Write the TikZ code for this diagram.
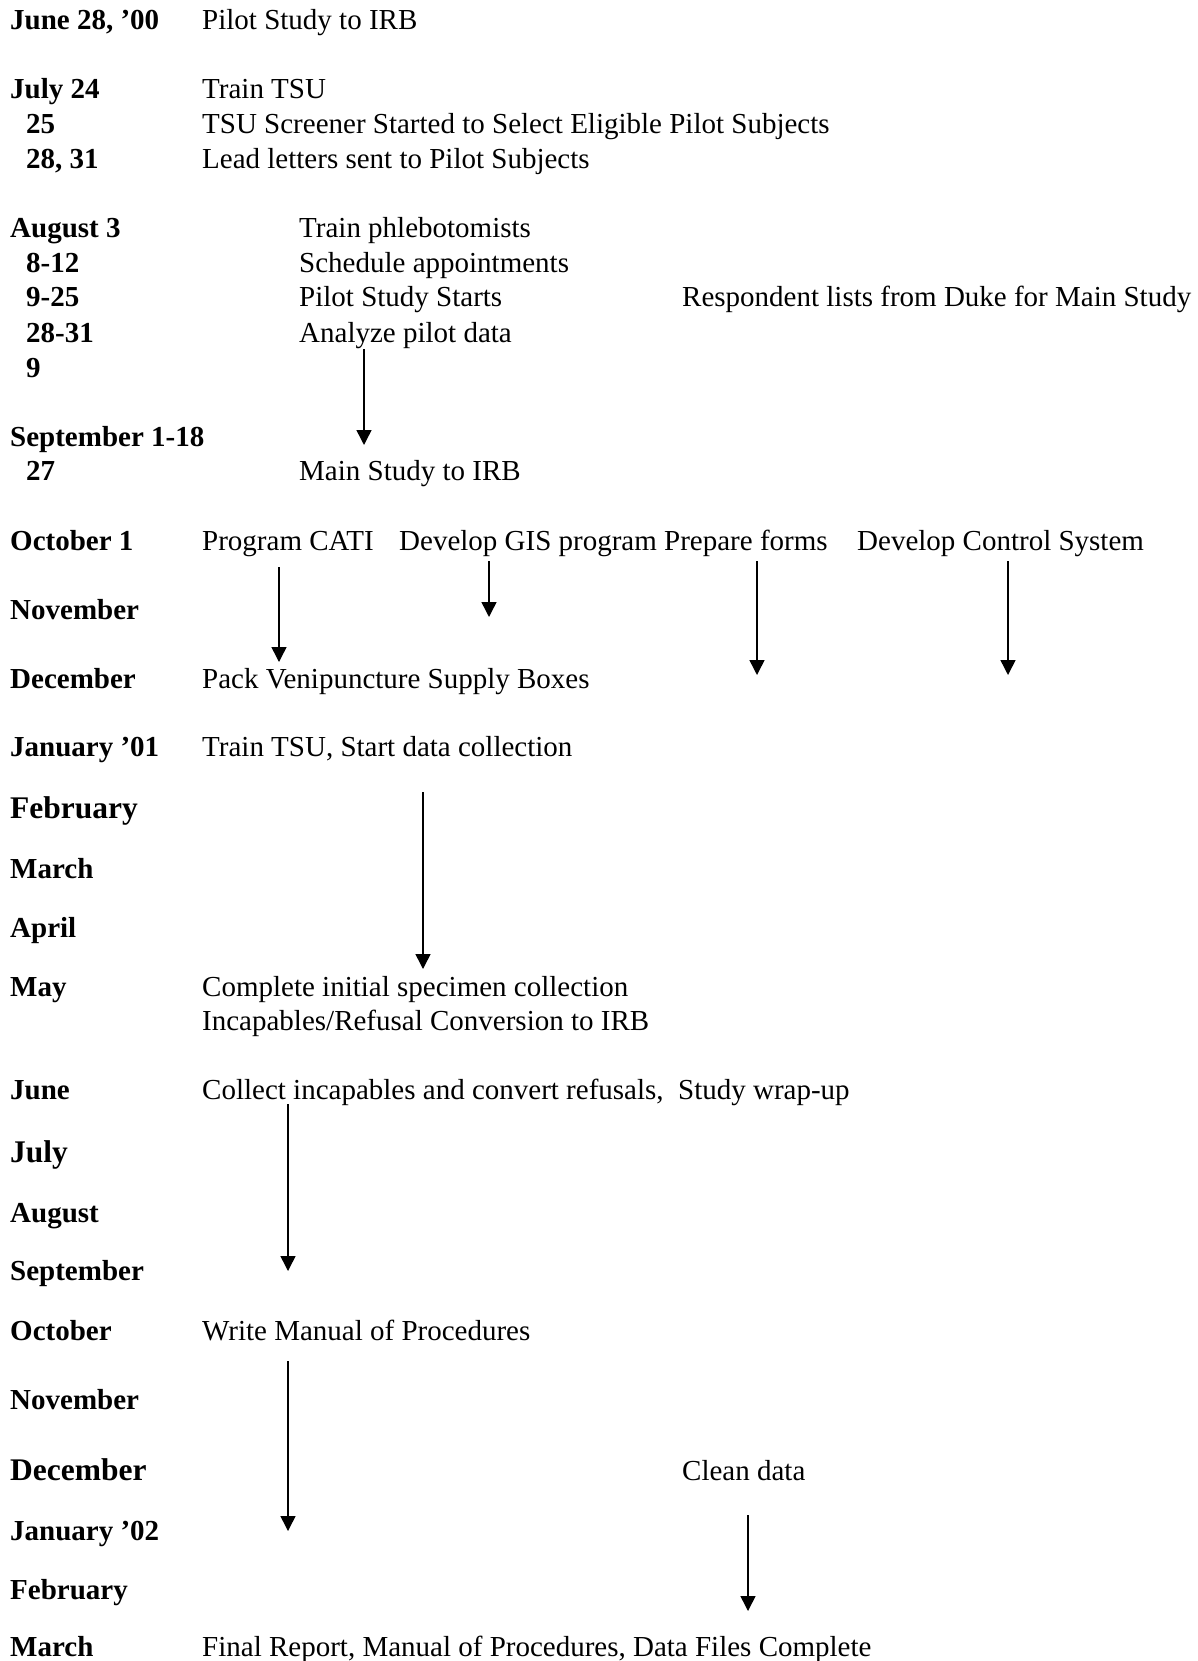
\documentclass[tikz,border=0pt]{standalone}
\usepackage{fontspec}
\setmainfont{Liberation Serif}
\usetikzlibrary{arrows.meta}

\begin{document}
\begin{tikzpicture}[x=1pt,y=-1pt,
  mon/.style={anchor=base west,inner sep=0pt,font=\fontsize{29}{34}\selectfont\bfseries},
  bigmon/.style={mon,font=\fontsize{31.5}{37}\selectfont\bfseries},
  task/.style={anchor=base west,inner sep=0pt,font=\fontsize{29}{34}\selectfont},
  arr/.style={-{Triangle[length=15pt,width=15pt]},line width=1.5pt}]
  \useasboundingbox (0,0) rectangle (1198,1661);

  % 2000 -- pilot
  \node[mon]  (jun00) at (10,30)  {June 28, ’00};
  \node[task] (pirb)  at (202,30) {Pilot Study to IRB};

  \node[mon]  (jul24) at (10,99)  {July 24};
  \node[mon]  (jul25) at (26,134) {25};
  \node[mon]  (jul28) at (26,169) {28, 31};
  \node[task] (trtsu) at (202,99)  {Train TSU};
  \node[task] (scrn)  at (202,134) {TSU Screener Started to Select Eligible Pilot Subjects};
  \node[task] (lead)  at (202,169) {Lead letters sent to Pilot Subjects};

  \node[mon]  (aug3)  at (10,238) {August 3};
  \node[mon]  (aug8)  at (26,273) {8-12};
  \node[mon]  (aug9)  at (26,307) {9-25};
  \node[mon]  (aug28) at (26,342) {28-31};
  \node[mon]  (aug9b) at (26,377) {9};
  \node[task] (phleb) at (299,238) {Train phlebotomists};
  \node[task] (sched) at (299,273) {Schedule appointments};
  \node[task] (pstart) at (299,307) {Pilot Study Starts};
  \node[task] (resp)  at (682,307) {Respondent lists from Duke for Main Study};
  \node[task] (anal)  at (299,342) {Analyze pilot data};

  \node[mon]  (sep1)  at (10,446) {September 1-18};
  \node[mon]  (sep27) at (26,480) {27};
  \node[task] (mirb)  at (299,480) {Main Study to IRB};

  % main study
  \node[mon]  (oct1)  at (10,550) {October 1};
  \node[task] (cati)  at (202,550) {Program CATI};
  \node[task] (gis)   at (399,550) {Develop GIS program};
  \node[task] (forms) at (664,550) {Prepare forms};
  \node[task] (ctrl)  at (857,550) {Develop Control System};
  \node[mon]  (nov00) at (10,619) {November};
  \node[mon]  (dec00) at (10,688) {December};
  \node[task] (pack)  at (202,688) {Pack Venipuncture Supply Boxes};

  \node[mon]    (jan01) at (10,756) {January ’01};
  \node[task]   (coll)  at (202,756) {Train TSU, Start data collection};
  \node[bigmon] (feb01) at (10,818) {February};
  \node[mon]    (mar01) at (10,878) {March};
  \node[mon]    (apr01) at (10,937) {April};
  \node[mon]    (may01) at (10,996) {May};
  \node[task]   (spec)  at (202,996)  {Complete initial specimen collection};
  \node[task]   (incap) at (202,1030) {Incapables/Refusal Conversion to IRB};

  \node[mon]    (jun01) at (10,1099) {June};
  \node[task]   (conv)  at (202,1099) {Collect incapables and convert refusals,\ \ Study wrap-up};
  \node[bigmon] (jul01) at (10,1162) {July};
  \node[mon]    (aug01) at (10,1222) {August};
  \node[mon]    (sep01) at (10,1280) {September};
  \node[mon]    (oct01) at (10,1340) {October};
  \node[task]   (manual) at (202,1340) {Write Manual of Procedures};
  \node[mon]    (nov01) at (10,1409) {November};
  \node[bigmon] (dec01) at (10,1480) {December};
  \node[task]   (clean) at (682,1480) {Clean data};

  \node[mon]  (jan02) at (10,1540) {January ’02};
  \node[mon]  (feb02) at (10,1599) {February};
  \node[mon]  (mar02) at (10,1656) {March};
  \node[task] (final) at (202,1656) {Final Report, Manual of Procedures, Data Files Complete};

  % arrow ends
  \coordinate (analS)   at (364,349);  \coordinate (analE)   at (364,445);
  \coordinate (catiS)   at (279,567);  \coordinate (catiE)   at (279,662);
  \coordinate (gisS)    at (489,561);  \coordinate (gisE)    at (489,617);
  \coordinate (formsS)  at (757,561);  \coordinate (formsE)  at (757,675);
  \coordinate (ctrlS)   at (1008,561); \coordinate (ctrlE)   at (1008,675);
  \coordinate (collS)   at (423,792);  \coordinate (collE)   at (423,969);
  \coordinate (convS)   at (288,1104); \coordinate (convE)   at (288,1271);
  \coordinate (manualS) at (288,1361); \coordinate (manualE) at (288,1531);
  \coordinate (cleanS)  at (748,1515); \coordinate (cleanE)  at (748,1611);

  \foreach \a in {anal,cati,gis,forms,ctrl,coll,conv,manual,clean}
    \draw[arr] (\a S) -- (\a E);

\end{tikzpicture}
\end{document}
